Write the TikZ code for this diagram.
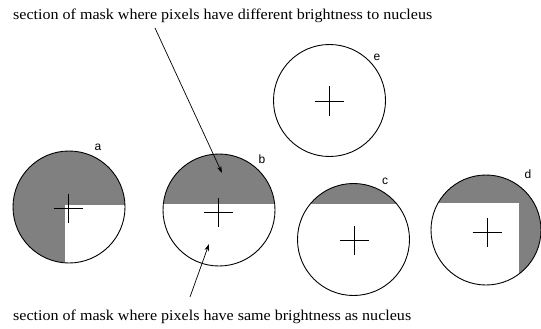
\documentclass[tikz,border=0pt]{standalone}
\usepackage{fontspec}
\setmainfont{Liberation Serif}
\newfontfamily\capfont[FakeStretch=1.07]{Liberation Serif}
\newfontfamily\lblfont{Liberation Sans}
\usetikzlibrary{arrows.meta}
\begin{document}
\begin{tikzpicture}[x=1pt,y=-1pt,
  disc/.style={circle,draw=black,line width=0.9pt,minimum size=112pt,inner sep=0pt},
  maskfill/.style={fill=black!50},
  crossline/.style={line width=0.8pt},
  lbl/.style={font=\lblfont\fontsize{12}{12}\selectfont,inner sep=0pt},
  caption/.style={font=\capfont\fontsize{15}{17}\selectfont,inner sep=0pt,anchor=base west},
  pointer/.style={line width=0.7pt,-{Stealth[length=7pt,width=4.5pt]}},
  plus/.pic={\draw[crossline] (-14.5,0)--(14.5,0) (0,-14.5)--(0,14.5);}]
\useasboundingbox (0,0) rectangle (541,329);
% fills
\begin{scope}
  \clip (69,207) circle (56);
  \fill[maskfill] (0,140) rectangle (140,280);
  \fill[white] (65,205) rectangle (140,280);
\end{scope}
\begin{scope}
  \clip (219,210) circle (56);
  \fill[maskfill] (150,140) rectangle (290,204);
\end{scope}
\begin{scope}
  \clip (353.5,239.5) circle (56);
  \fill[maskfill] (290,170) rectangle (420,204);
\end{scope}
\begin{scope}
  \clip (486,230) circle (55);
  \fill[maskfill] (420,160) rectangle (545,203);
  \fill[maskfill] (519,160) rectangle (545,300);
\end{scope}
% circles
\node[disc] (ca) at (69,207) {};
\node[disc] (cb) at (219,210) {};
\node[disc] (cc) at (353.5,239.5) {};
\node[disc,minimum size=110pt] (cd) at (486,230) {};
\node[disc] (ce) at (329.5,100.5) {};
% crosses
\pic at (68,208) {plus};
\pic at (218.5,212) {plus};
\pic at (354,240) {plus};
\pic at (487,232) {plus};
\pic at (329,101) {plus};
% labels
\node[lbl] (la) at (98,147) {a};
\node[lbl] (lb) at (262,159) {b};
\node[lbl] (lc) at (385,181) {c};
\node[lbl] (ld) at (528,174) {d};
\node[lbl] (le) at (377,57) {e};
% captions
\node[caption] (top) at (13,20) {section of mask where pixels have different brightness to nucleus};
\node[caption] (bot) at (13,320) {section of mask where pixels have same brightness as nucleus};
% pointers
\coordinate (s1) at (155,28);
\coordinate (t1) at (222,173);
\coordinate (s2) at (190,297);
\coordinate (t2) at (209,244);
\draw[pointer] (s1) -- (t1);
\draw[pointer] (s2) -- (t2);
\end{tikzpicture}
\end{document}
